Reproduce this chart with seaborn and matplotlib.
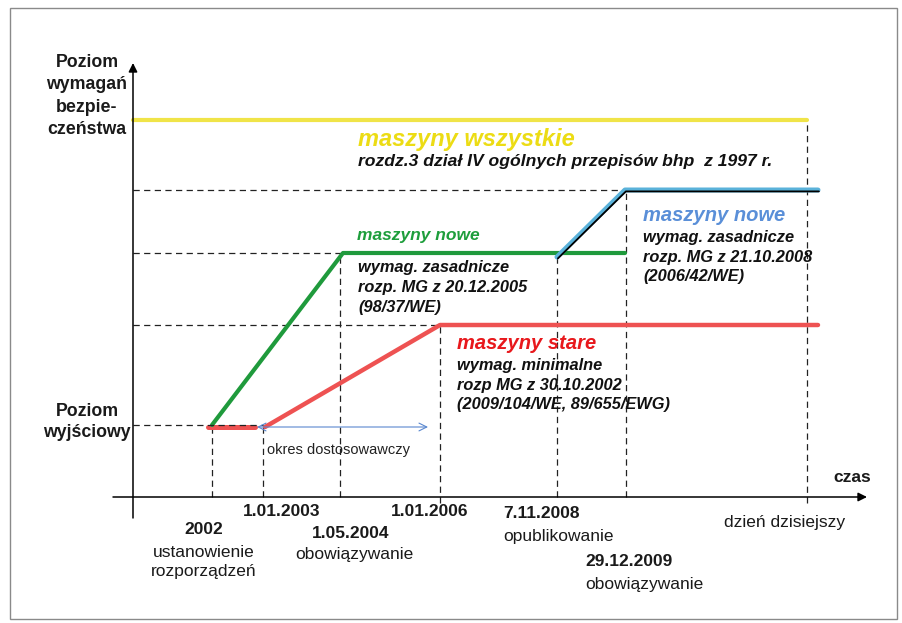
import matplotlib
matplotlib.use("Agg")
import matplotlib.pyplot as plt
import matplotlib.transforms as mtransforms
from matplotlib.patches import Rectangle
import seaborn as sns
import pandas as pd

# ---------------- data (conceptual units: x = timeline position, y = safety level) -------------
event_labels = ["2002", "1.01.2003", "1.05.2004", "1.01.2006", "7.11.2008", "29.12.2009", "dzień dzisiejszy"]
event_pos = [7.9, 13.0, 20.7, 30.7, 42.4, 49.3, 67.4]

level_names = ["wyjściowy", "stare", "nowe_98", "nowe_2006", "wszystkie"]
level_vals = [7.2, 17.2, 24.4, 30.7, 37.7]

green_x = [7.9, 21.0, 49.2]
green_y = [7.2, 24.4, 24.4]

red_stub_x = [7.5, 12.2]
red_stub_y = [7.0, 7.0]

red_x = [13.2, 30.7, 68.5]
red_y = [7.0, 17.2, 17.2]

blue_x = [42.4, 49.2, 68.5]
blue_y = [24.0, 30.7, 30.7]

yellow_x = [0.0, 67.4]
yellow_y = [37.7, 37.7]

# ---------------- helpers for layout (pixel -> axis units) ----------------
def X(px):
    return (px - 133) / 10.0

def Y(py):
    return (497 - py) / 10.0

sns.set_theme(style="white")
plt.rcParams["font.family"] = ["Liberation Sans", "DejaVu Sans"]

fig = plt.figure(figsize=(9.02, 6.23), dpi=100)
ax = fig.add_axes([0, 0, 1, 1])
ax.set_xlim(-13.3, 76.9)
ax.set_ylim(-12.6, 49.7)
ax.axis("off")

# frame
fig.patches.append(Rectangle((10 / 902, 1 - 619 / 623), (897 - 10) / 902, (619 - 8) / 623,
                             transform=fig.transFigure, fill=False, ec="#8a8a8a", lw=1.0))

DASH = dict(color="#222222", lw=0.9, ls=(0, (5, 3.5)))

# horizontal dashed guides
ax.plot([0, blue_x[1]], [level_vals[3]] * 2, **DASH, zorder=2)
ax.plot([0, green_x[1]], [level_vals[2]] * 2, **DASH, zorder=2)
ax.plot([0, red_x[1]], [level_vals[1]] * 2, **DASH, zorder=2)

# vertical dashed guides
v_top = [level_vals[0], red_stub_y[0], level_vals[2], level_vals[1], level_vals[2], level_vals[3], level_vals[4]]
v_bot = [0, 0, 0, -0.6, 0, 0, -0.6]
for xp, yt, yb in zip(event_pos, v_top, v_bot):
    ax.plot([xp, xp], [yb, yt], **DASH, zorder=2)

# series
df_y = pd.DataFrame({"x": yellow_x, "y": yellow_y})
sns.lineplot(data=df_y, x="x", y="y", ax=ax, color="#f0e448", lw=3.0, sort=False, zorder=3)

df_r = pd.DataFrame({"x": red_x, "y": red_y})
sns.lineplot(data=df_r, x="x", y="y", ax=ax, color="#ee5252", lw=3.2, sort=False, zorder=3)
df_rs = pd.DataFrame({"x": red_stub_x, "y": red_stub_y})
sns.lineplot(data=df_rs, x="x", y="y", ax=ax, color="#ee5252", lw=3.6, sort=False, zorder=3)

df_g = pd.DataFrame({"x": green_x, "y": green_y})
sns.lineplot(data=df_g, x="x", y="y", ax=ax, color="#1f9a3c", lw=3.0, sort=False, zorder=4)

df_b = pd.DataFrame({"x": blue_x, "y": blue_y})
sns.lineplot(data=df_b, x="x", y="y", ax=ax, color="#5ab2da", lw=3.6, sort=False, zorder=5)
off = mtransforms.offset_copy(ax.transData, fig=fig, x=0.9, y=-1.4, units="dots")
ax.plot(blue_x, blue_y, color="black", lw=1.3, transform=off, zorder=6)

# base level dashed (over red stub)
ax.plot([0, event_pos[1]], [level_vals[0]] * 2, **DASH, zorder=7)

# axes arrows
ax.annotate("", xy=(73.4, 0), xytext=(-2.0, 0),
            arrowprops=dict(arrowstyle="-|>", lw=1.1, color="black", mutation_scale=13,
                            shrinkA=0, shrinkB=0), zorder=8)
ax.annotate("", xy=(0, 43.4), xytext=(0, -2.1),
            arrowprops=dict(arrowstyle="-|>", lw=1.1, color="black", mutation_scale=13,
                            shrinkA=0, shrinkB=0), zorder=8)

# adaptation period arrow
ax.annotate("", xy=(X(428), red_stub_y[0]), xytext=(X(257), red_stub_y[0]),
            arrowprops=dict(arrowstyle="<->", lw=0.8, color="#5a88d0", mutation_scale=14,
                            shrinkA=0, shrinkB=0), zorder=8)
ax.text(X(267), Y(450), "okres dostosowawczy", fontsize=10.5, color="#222222", va="center", ha="left")

# y-axis labels
ax.text(X(87), Y(96), "Poziom\nwymagań\nbezpie-\nczeństwa", fontsize=12.8, fontweight="bold",
        ha="center", va="center", linespacing=1.42, color="#1a1a1a")
ax.text(X(87), Y(422), "Poziom\nwyjściowy", fontsize=12.8, fontweight="bold",
        ha="center", va="center", linespacing=1.38, color="#1a1a1a")
ax.text(X(852), Y(477), "czas", fontsize=12.5, fontweight="bold", ha="center", va="center",
        color="#1a1a1a")

# series annotations
BI = dict(fontweight="bold", fontstyle="italic", ha="left", va="center")
ax.text(X(358), Y(139), "maszyny wszystkie", fontsize=17, color="#ecdc14", **BI)
ax.text(X(358), Y(161), "rozdz.3 dział IV ogólnych przepisów bhp  z 1997 r.", fontsize=12.6,
        color="#111111", **BI)

ax.text(X(357), Y(235), "maszyny nowe", fontsize=12.5, color="#1e9e3c", **BI)
ax.text(X(358), Y(287.5), "wymag. zasadnicze\nrozp. MG z 20.12.2005\n(98/37/WE)", fontsize=11.8,
        color="#111111", linespacing=1.38, **BI)

ax.text(X(643), Y(215), "maszyny nowe", fontsize=14.5, color="#5a8fd8", **BI)
ax.text(X(643), Y(257), "wymag. zasadnicze\nrozp. MG z 21.10.2008\n(2006/42/WE)", fontsize=11.8,
        color="#111111", linespacing=1.38, **BI)

ax.text(X(457), Y(343), "maszyny stare", fontsize=14.5, color="#e8181c", **BI)
ax.text(X(457), Y(385), "wymag. minimalne\nrozp MG z 30.10.2002\n(2009/104/WE, 89/655/EWG)",
        fontsize=11.8, color="#111111", linespacing=1.38, **BI)

# timeline labels
B = dict(fontsize=12.5, fontweight="bold", color="#1a1a1a", va="center")
R = dict(fontsize=12.5, color="#1a1a1a", va="center")
ax.text(X(204), Y(530), event_labels[0], ha="center", **B)
ax.text(X(204), Y(562), "ustanowienie\nrozporządzeń", ha="center", linespacing=1.32, **R)
ax.text(X(282), Y(512), event_labels[1], ha="center", **B)
ax.text(X(351), Y(533), event_labels[2], ha="center", **B)
ax.text(X(354), Y(555), "obowiązywanie", ha="center", **R)
ax.text(X(430), Y(512), event_labels[3], ha="center", **B)
ax.text(X(503), Y(514), event_labels[4], ha="left", **B)
ax.text(X(503), Y(536), "opublikowanie", ha="left", **R)
ax.text(X(585), Y(562), event_labels[5], ha="left", **B)
ax.text(X(585), Y(584), "obowiązywanie", ha="left", **R)
ax.text(X(724), Y(522), event_labels[6], ha="left", **R)

fig.savefig("out.png", dpi=100)
